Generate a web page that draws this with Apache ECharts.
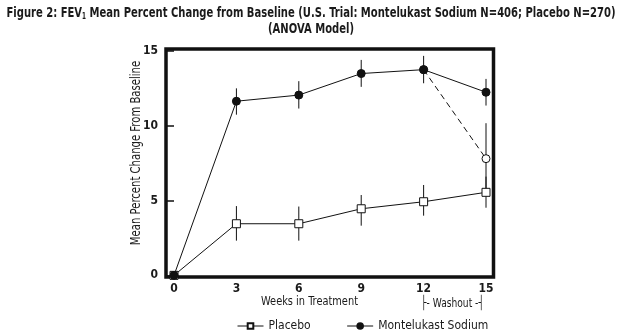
<!DOCTYPE html>
<html><head><meta charset="utf-8">
<script src="https://cdn.jsdelivr.net/npm/echarts@6/dist/echarts.min.js"></script>
<style>html,body{margin:0;padding:0;background:#fff}#c{width:622px;height:335px}</style>
</head><body><div id="c"></div>
<script>
var weeks = [0, 3, 6, 9, 12, 15];
var placebo = [0, 3.45, 3.45, 4.45, 4.92, 5.55];
var placeboLow = [0, 2.32, 2.32, 3.32, 3.99, 4.52];
var placeboHigh = [0, 4.63, 4.6, 5.37, 6.04, 6.6];
var monte = [0, 11.64, 12.05, 13.49, 13.75, 12.24];
var monteLow = [0, 10.74, 11.15, 12.6, 12.84, 11.35];
var monteHigh = [0, 12.5, 12.98, 14.4, 14.67, 13.13];
var washoutWeeks = [12, 15];
var washout = [13.75, 7.8];
var washoutLow = [null, 5.43];
var washoutHigh = [null, 10.17];
var xTicks = [0, 3, 6, 9, 12, 15];
var yTicks = [0, 5, 10, 15];

var FONT = "'DejaVu Sans Condensed', 'Liberation Sans', sans-serif";
var INK = '#1a1a1a';
function pairs(xs, ys) { return xs.map(function (x, i) { return [x, ys[i]]; }); }
function bars(xs, lo, hi) {
  var out = [];
  xs.forEach(function (x, i) { if (lo[i] != null && hi[i] != null && hi[i] > lo[i]) out.push([x, lo[i], hi[i]]); });
  return out;
}
function errRender(params, api) {
  var a = api.coord([api.value(0), api.value(1)]);
  var b = api.coord([api.value(0), api.value(2)]);
  return { type: 'line', shape: { x1: a[0], y1: a[1], x2: b[0], y2: b[1] }, style: { stroke: '#111', lineWidth: 1 } };
}
function ctext(x, y, text, size, weight, sx, rot) {
  return {
    type: 'text', x: x, y: y, scaleX: sx, rotation: rot || 0, z: 10,
    style: { text: text, fontFamily: FONT, fontSize: size, fontWeight: weight, fill: INK, align: 'center', verticalAlign: 'middle' }
  };
}

var chart = echarts.init(document.getElementById('c'));
chart.setOption({
  animation: false,
  backgroundColor: '#fff',
  textStyle: { fontFamily: FONT },
  grid: { left: 166, right: 128.5, top: 49, bottom: 58, show: true, borderWidth: 3.5, borderColor: '#111', backgroundColor: 'transparent' },
  xAxis: {
    type: 'value', min: -0.385, max: 15.36,
    axisLine: { show: false },
    splitLine: { show: false },
    axisTick: { show: false },
    axisLabel: { customValues: xTicks, color: INK, fontFamily: FONT, fontSize: 12, fontWeight: 'bold', margin: 6 }
  },
  yAxis: {
    type: 'value', min: -0.11, max: 15.13,
    axisLine: { show: false },
    splitLine: { show: false },
    axisTick: { show: true, customValues: yTicks, length: 7, lineStyle: { color: '#111', width: 1.5 } },
    axisLabel: { customValues: yTicks, color: INK, fontFamily: FONT, fontSize: 12, fontWeight: 'bold', margin: 8 }
  },
  legend: {
    top: 315, left: 232, itemGap: 36, itemWidth: 26, itemHeight: 7,
    data: ['Placebo', 'Montelukast Sodium'],
    lineStyle: { width: 1 },
    textStyle: { color: INK, fontFamily: FONT, fontSize: 12 }
  },
  graphic: [
    {
      type: 'text', x: 311, y: 21, scaleX: 0.795, z: 10,
      style: {
        text: '{a|Figure 2: FEV}{s|1}{a| Mean Percent Change from Baseline (U.S. Trial: Montelukast Sodium N=406; Placebo N=270)}\n{a|(ANOVA Model)}',
        align: 'center', verticalAlign: 'middle',
        rich: {
          a: { fontFamily: FONT, fontSize: 14, fontWeight: 'bold', fill: INK, lineHeight: 16 },
          s: { fontFamily: FONT, fontSize: 8, fontWeight: 'bold', fill: INK, padding: [8, 0, 0, 0], lineHeight: 16 }
        }
      }
    },
    ctext(136, 153, 'Mean Percent Change From Baseline', 13.5, 'normal', 0.83, Math.PI / 2),
    ctext(309.5, 302, 'Weeks in Treatment', 13, 'normal', 0.84),
    ctext(452.5, 304, '\u251C- Washout -\u2524', 13, 'normal', 0.78)
  ],
  series: [
    { type: 'custom', renderItem: errRender, data: bars(weeks, placeboLow, placeboHigh), z: 2, silent: true },
    { type: 'custom', renderItem: errRender, data: bars(weeks, monteLow, monteHigh), z: 2, silent: true },
    { type: 'custom', renderItem: errRender, data: bars(washoutWeeks, washoutLow, washoutHigh), z: 2, silent: true },
    {
      name: 'washout', type: 'line', data: pairs(washoutWeeks, washout), z: 3,
      lineStyle: { color: '#111', width: 1, type: [6, 4] },
      symbol: 'circle', symbolSize: 8, showAllSymbol: true,
      itemStyle: { color: '#fff', borderColor: '#111', borderWidth: 1 }
    },
    {
      name: 'Placebo', type: 'line', data: pairs(weeks, placebo), z: 4,
      lineStyle: { color: '#111', width: 1 },
      symbol: 'rect', symbolSize: 8, showAllSymbol: true,
      itemStyle: { color: '#fff', borderColor: '#111', borderWidth: 1 }
    },
    {
      name: 'Montelukast Sodium', type: 'line', data: pairs(weeks, monte), z: 5,
      lineStyle: { color: '#111', width: 1 },
      symbol: 'circle', symbolSize: 8, showAllSymbol: true,
      itemStyle: { color: '#111', borderColor: '#111', borderWidth: 1 }
    }
  ]
});
</script></body></html>
